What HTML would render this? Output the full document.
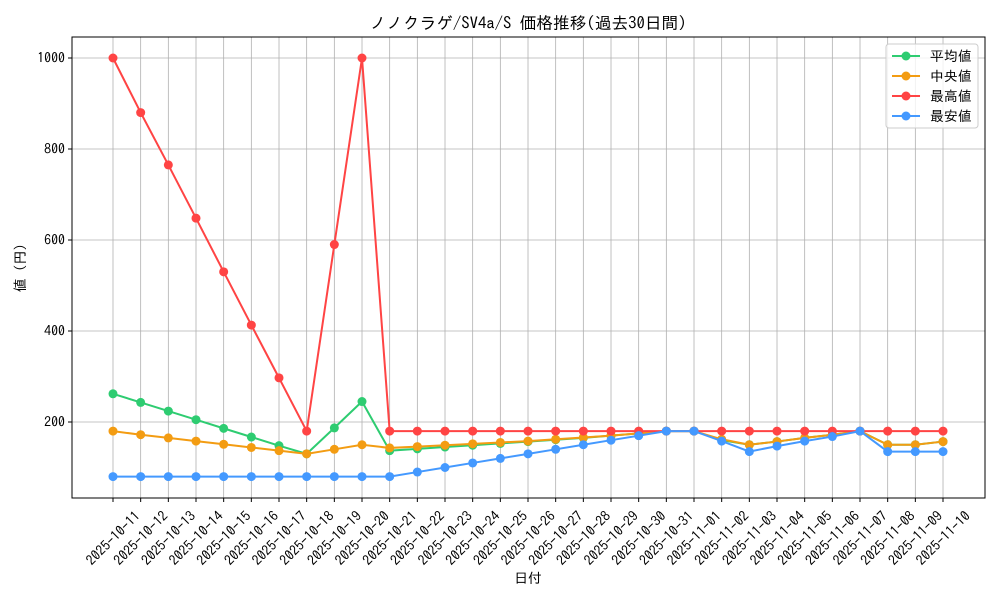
<!DOCTYPE html>
<html><head><meta charset="utf-8"><style>
body{margin:0;background:#fff;width:1000px;height:600px;overflow:hidden}
text{font-family:"IPAGothic","Noto Sans CJK JP",sans-serif;fill:#000}
</style></head><body>
<svg id="s" width="1000" height="600" xmlns="http://www.w3.org/2000/svg"></svg>
<script>
const s=document.getElementById('s');
let h='';
const L=72,R=985,T=37,B=498;
const X=i=>113+i*27.667, Y=v=>513-v*0.455;
const dates=[];
for(let i=0;i<31;i++){const d=new Date(Date.UTC(2025,9,11+i));dates.push(d.toISOString().slice(0,10));}
for(let i=0;i<31;i++)h+=`<line x1="${X(i)}" y1="${T}" x2="${X(i)}" y2="${B}" stroke="#b0b0b0" stroke-width="0.8"/>`;
for(const v of [200,400,600,800,1000])h+=`<line x1="${L}" y1="${Y(v)}" x2="${R}" y2="${Y(v)}" stroke="#b0b0b0" stroke-width="0.8"/><line x1="${L-4}" y1="${Y(v)}" x2="${L}" y2="${Y(v)}" stroke="#000"/><text x="${L-7}" y="${Y(v)+4.5}" font-size="13.9" text-anchor="end">${v}</text>`;
h+=`<rect x="${L}" y="${T}" width="${R-L}" height="${B-T}" fill="none" stroke="#000" stroke-width="1"/>`;
for(let i=0;i<31;i++){h+=`<line x1="${X(i)}" y1="${B}" x2="${X(i)}" y2="${B+4}" stroke="#000"/><text font-size="13.9" text-anchor="middle" transform="translate(${X(i)},${B+40}) rotate(-45)" y="5">${dates[i]}</text>`;}
const mx=[1000,880,765,648,530,413,297,180,590,1000].concat(Array(21).fill(180));
const av=[262,243,224,205,186,167,148,130,187,245,137,141,145,149,153,157,161,165,170,175,180,180,160,150,157,165,172,180,150,150,157];
const md=[180,172,165,158,151,144,137,130,140,150,143,146,149,152,155,158,162,166,170,175,180,180,162,150,157,165,172,180,150,150,157];
const mn=Array(11).fill(80).concat([90,100,110,120,130,140,150,160,170,180,180,158,135,147,158,168,180,135,135,135]);
const ser=[[av,'#2ecc71'],[md,'#f39c12'],[mx,'#ff4444'],[mn,'#4499ff']];
for(const [d,c] of ser){h+=`<polyline fill="none" stroke="${c}" stroke-width="2" points="${d.map((v,i)=>X(i)+','+Y(v)).join(' ')}"/>`;d.forEach((v,i)=>h+=`<circle cx="${X(i)}" cy="${Y(v)}" r="4.5" fill="${c}"/>`);}
h+=`<text x="528" y="29" font-size="16.7" text-anchor="middle">ノノクラゲ/SV4a/S 価格推移(過去30日間)</text>`;
h+=`<text x="528" y="583" font-size="13.9" text-anchor="middle">日付</text>`;
h+=`<text font-size="13.9" text-anchor="middle" transform="translate(25,268) rotate(-90)">値 (円)</text>`;
h+=`<rect x="886" y="44" width="92" height="84" rx="3" fill="#fff" fill-opacity="0.8" stroke="#ccc"/>`;
const nm=['平均値','中央値','最高値','最安値'];
ser.forEach(([d,c],k)=>{const y=56+k*20;h+=`<line x1="892" y1="${y}" x2="920" y2="${y}" stroke="${c}" stroke-width="2"/><circle cx="906" cy="${y}" r="4.5" fill="${c}"/><text x="930" y="${y+5}" font-size="13.9">${nm[k]}</text>`;});
s.innerHTML=h;
</script>
</body></html>
